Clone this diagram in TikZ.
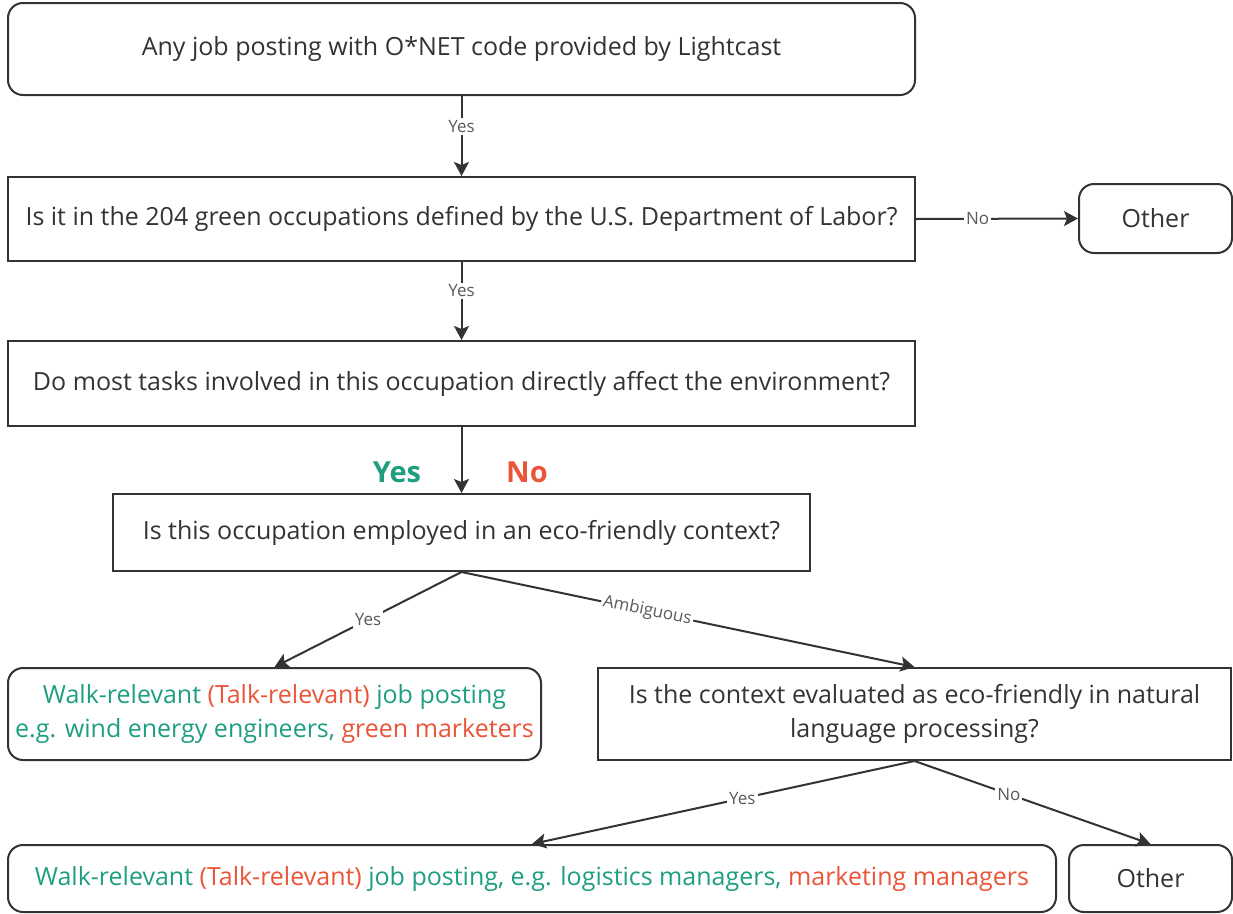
\documentclass[tikz,border=0pt]{standalone}
\usepackage{fontspec}
\setmainfont{Open Sans}
\usetikzlibrary{arrows.meta}
\definecolor{walk}{RGB}{30,158,128}
\definecolor{talk}{RGB}{234,84,56}
\definecolor{ln}{RGB}{51,51,51}
\definecolor{lbl}{RGB}{90,90,90}
\tikzset{
  box/.style={draw=ln, line width=2pt, align=center, inner sep=0pt, text=ln,
    font=\fontsize{25}{34}\selectfont},
  rbox/.style={box, rounded corners=15pt},
  arr/.style={draw=ln, line width=2pt, -{Stealth[length=14pt,width=15pt,inset=3pt]}},
  elbl/.style={fill=white, text=lbl, inner sep=2pt, font=\fontsize{17}{19}\selectfont},
}
\begin{document}
\begin{tikzpicture}[x=1pt,y=-1pt]
\useasboundingbox (0,0) rectangle (1233,913);
\node[rbox, minimum width=907pt, minimum height=92pt] (b1) at (461.5,49) {Any job posting with O*NET code provided by Lightcast};
\node[box, minimum width=907pt, minimum height=84pt] (b2) at (461.5,219) {Is it in the 204 green occupations defined by the U.S. Department of Labor?};
\node[rbox, minimum width=153pt, minimum height=69pt] (o1) at (1155.5,218.5) {Other};
\node[box, minimum width=907pt, minimum height=85pt] (b3) at (461.5,383.5) {Do most tasks involved in this occupation directly affect the environment?};
\node[box, minimum width=697pt, minimum height=77pt] (b4) at (461.5,532.5) {Is this occupation employed in an eco-friendly context?};
\node[rbox, minimum width=533pt, minimum height=92pt] (w1) at (274.5,714) {\textcolor{walk}{Walk-relevant} \textcolor{talk}{(Talk-relevant)} \textcolor{walk}{job posting}\\\textcolor{walk}{e.g. wind energy engineers,} \textcolor{talk}{green marketers}};
\node[box, minimum width=633pt, minimum height=92pt] (nl) at (914.5,714) {Is the context evaluated as eco-friendly in natural\\language processing?};
\node[rbox, minimum width=1048pt, minimum height=67pt] (w2) at (532,878.5) {\textcolor{walk}{Walk-relevant} \textcolor{talk}{(Talk-relevant)} \textcolor{walk}{job posting, e.g. logistics managers,} \textcolor{talk}{marketing managers}};
\node[rbox, minimum width=163pt, minimum height=67pt] (o2) at (1150.5,878.5) {Other};
\node[text=walk, font=\bfseries\fontsize{29}{32}\selectfont] (ly) at (397,472) {Yes};
\node[text=talk, font=\bfseries\fontsize{29}{32}\selectfont] (ln) at (527,472) {No};
\draw[arr] (b1.south) -- node[elbl, pos=0.38] {Yes} (b2.north);
\draw[arr] (b2.east) -- node[elbl, pos=0.38] {No} (o1.west);
\draw[arr] (b2.south) -- node[elbl, pos=0.37] {Yes} (b3.north);
\draw[arr] (b3.south) -- (b4.north);
\draw[arr] (b4.south) -- node[elbl, pos=0.5] {Yes} (w1.north);
\draw[arr] (b4.south) -- node[elbl, pos=0.41, sloped] {Ambiguous} (nl.north);
\draw[arr] (nl.south) -- node[elbl, pos=0.45] {Yes} (w2.north);
\draw[arr] (nl.south) -- node[elbl, pos=0.4] {No} (o2.north);
\end{tikzpicture}
\end{document}
